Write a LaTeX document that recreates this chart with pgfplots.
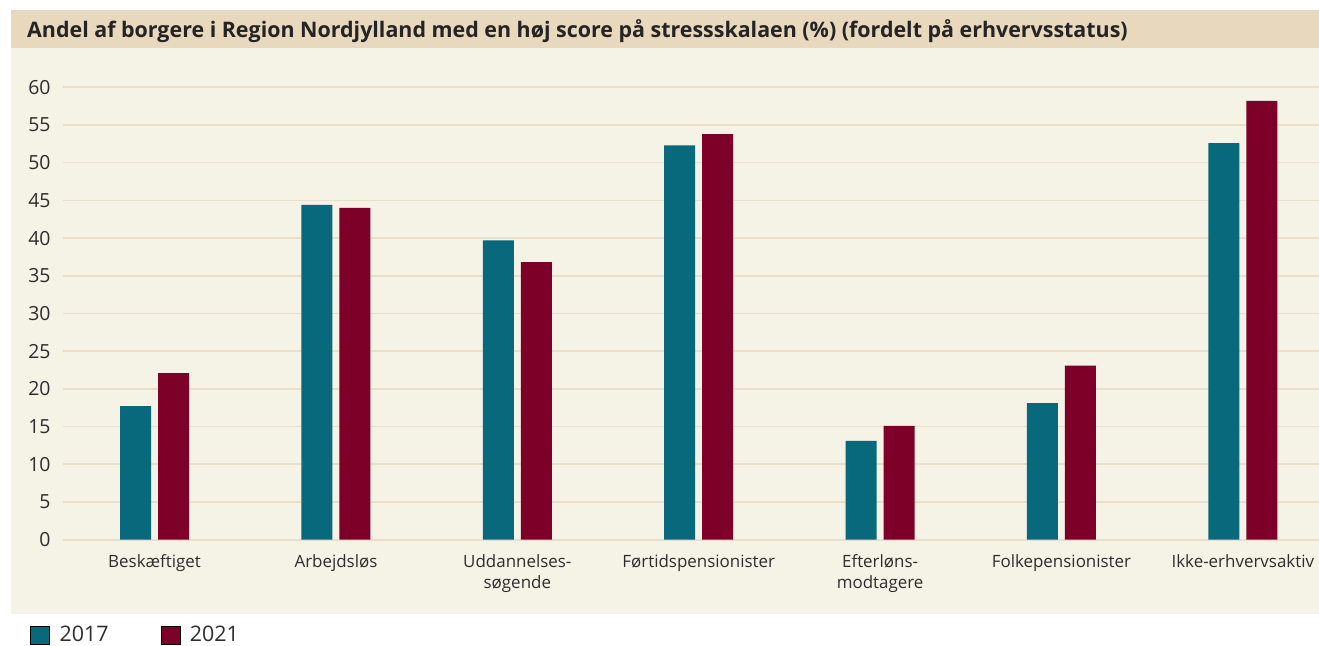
\documentclass[border=0pt]{standalone}
\usepackage{fontspec}
\setmainfont{Open Sans}
\usepackage{pgfplots}
\pgfplotsset{compat=1.18}

\definecolor{c2017}{RGB}{8,104,124}
\definecolor{c2021}{RGB}{125,0,40}
\definecolor{panelbg}{RGB}{245,242,230}
\definecolor{titlebg}{RGB}{232,216,190}
\definecolor{gridc}{RGB}{234,222,200}
\definecolor{txt}{RGB}{45,45,45}

\begin{document}
\begin{tikzpicture}
\path[use as bounding box] (0,0) rectangle (1319bp,646bp);
\fill[panelbg] (11bp,32bp) rectangle (1319bp,598bp);
\fill[titlebg] (11bp,598bp) rectangle (1319bp,636bp);
\node[anchor=base west, inner sep=0pt, text=txt!80!black,
      font=\bfseries\fontsize{21.5}{25}\selectfont] at (27bp,608bp)
  {Andel af borgere i Region Nordjylland med en høj score på stressskalaen (\%) (fordelt på erhvervsstatus)};

\begin{axis}[
    at={(63bp,106.3bp)}, anchor=south west,
    scale only axis,
    width=1256bp, height=452.4bp,
    xmin=-0.505, xmax=6.42,
    ymin=0, ymax=60,
    ybar=7bp, bar width=31bp,
    axis line style={draw=none},
    major tick length=0pt,
    ytick={0,5,...,60},
    ymajorgrids,
    grid style={gridc, line width=1.6bp},
    xtick={0,1,2,3,4,5,6},
    xticklabels={Beskæftiget, Arbejdsløs, {Uddannelses-\\søgende}, Førtidspensionister, {Efterløns-\\modtagere}, Folkepensionister, Ikke-erhvervsaktiv},
    xticklabel style={align=center, text=txt, font=\fontsize{17}{21}\selectfont, yshift=-11bp},
    yticklabel style={text=txt, font=\fontsize{19.5}{22}\selectfont, xshift=-9bp},
    /pgf/number format/assume math mode=true,
    clip=false,
    legend style={at={(axis description cs:-0.0287,-0.21)}, anchor=west,
        draw=none, fill=none, legend columns=-1,
        font=\fontsize{21.5}{25}\selectfont, text=txt,
        /tikz/every odd column/.append style={column sep=8bp},
        /tikz/every even column/.append style={column sep=50bp}},
    legend image code/.code={\draw[#1] (0bp,-9bp) rectangle (19bp,9bp);},
]
\addplot[draw=none, fill=c2017] coordinates {
    (0,17.7) (1,44.4) (2,39.7) (3,52.3) (4,13.1) (5,18.1) (6,52.6)
};
\addlegendentry{2017}
\addplot[draw=none, fill=c2021] coordinates {
    (0,22.1) (1,44.0) (2,36.8) (3,53.8) (4,15.1) (5,23.1) (6,58.2)
};
\addlegendentry{2021}
\end{axis}
\end{tikzpicture}
\end{document}
